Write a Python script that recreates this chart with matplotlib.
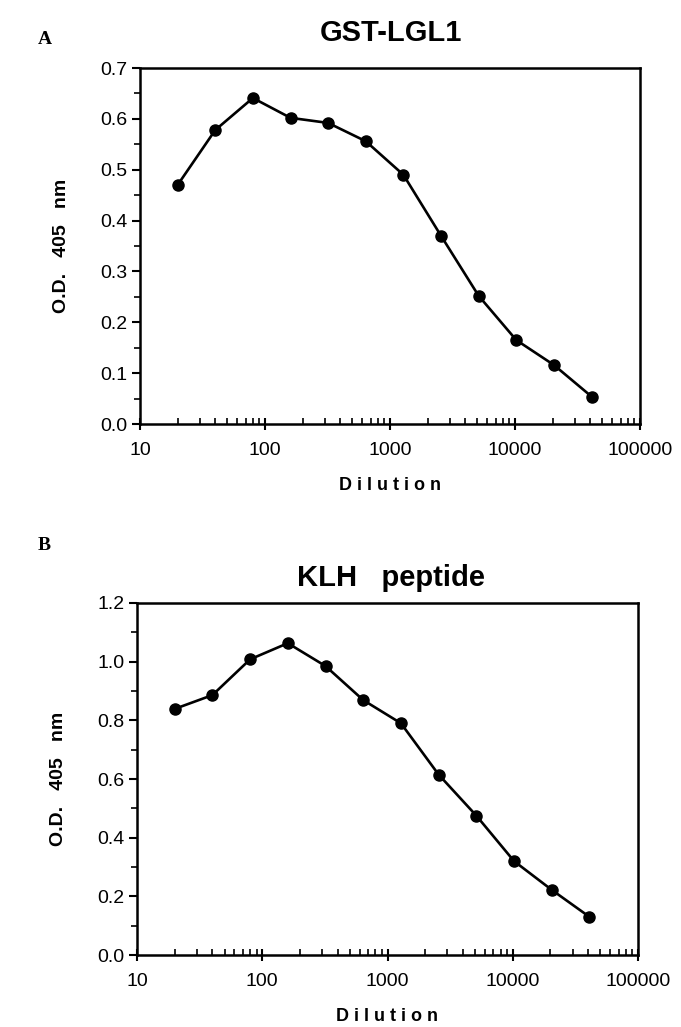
import matplotlib

matplotlib.use("Agg")
import matplotlib.pyplot as plt
from matplotlib.ticker import FixedLocator, LogLocator, NullFormatter, FixedFormatter

plt.rcParams["font.family"] = ["Liberation Sans", "DejaVu Sans"]

dilution = [20, 40, 80, 160, 320, 640, 1280, 2560, 5120, 10240, 20480, 40960]
od_gst = [0.47, 0.578, 0.641, 0.602, 0.592, 0.556, 0.49, 0.37, 0.252, 0.165, 0.116, 0.054]
od_klh = [0.839, 0.886, 1.008, 1.063, 0.985, 0.869, 0.79, 0.615, 0.475, 0.32, 0.222, 0.13]

x_ticks = [10, 100, 1000, 10000, 100000]
x_labels = ["10", "100", "1000", "10000", "100000"]

W, H = 681, 1027
fig = plt.figure(figsize=(W / 100, H / 100), dpi=100)


def make_panel(rect, y, ymax, ymajor, letter, letter_y, title, title_y):
    left, top, right, bottom = rect
    ax = fig.add_axes([left / W, 1 - bottom / H, (right - left) / W, (bottom - top) / H])
    ax.plot(dilution, y, color="black", linewidth=1.9, marker="o", markersize=8, zorder=3)
    ax.set_xscale("log")
    ax.set_xlim(10, 100000)
    ax.set_ylim(0, ymax)
    ax.xaxis.set_major_locator(FixedLocator(x_ticks))
    ax.xaxis.set_major_formatter(FixedFormatter(x_labels))
    ax.xaxis.set_minor_locator(LogLocator(base=10, subs=range(2, 10)))
    ax.xaxis.set_minor_formatter(NullFormatter())
    yt = [round(i * ymajor, 2) for i in range(int(round(ymax / ymajor)) + 1)]
    ax.yaxis.set_major_locator(FixedLocator(yt))
    ax.set_yticklabels([f"{v:.1f}" for v in yt])
    ax.yaxis.set_minor_locator(FixedLocator([v + ymajor / 2 for v in yt[:-1]]))
    for s in ax.spines.values():
        s.set_linewidth(1.8)
    ax.tick_params(axis="x", which="major", direction="inout", length=8, width=1.5, labelsize=14, pad=9)
    ax.tick_params(axis="x", which="minor", direction="in", length=4, width=1.2)
    ax.tick_params(axis="y", which="major", direction="out", length=6, width=1.5, labelsize=14, pad=3)
    ax.tick_params(axis="y", which="minor", direction="out", length=4, width=1.2)
    ax.set_xlabel("D i l u t i o n", fontsize=13, fontweight="bold", labelpad=13)
    ax.set_ylabel("O.D.   405   nm", fontsize=14, fontweight="bold", labelpad=22)
    fig.text(38 / W, 1 - letter_y / H, letter, fontsize=14, fontweight="bold",
             family=["Liberation Serif"], ha="left", va="center")
    fig.text(391 / W, 1 - title_y / H, title, fontsize=21, fontweight="bold",
             ha="center", va="center")
    return ax


make_panel((140, 68, 640, 424), od_gst, 0.7, 0.1, "A", 40, "GST-LGL1", 33)
make_panel((137, 603, 638, 955), od_klh, 1.2, 0.2, "B", 545, "KLH   peptide", 578)

fig.savefig("out.png", dpi=100)
